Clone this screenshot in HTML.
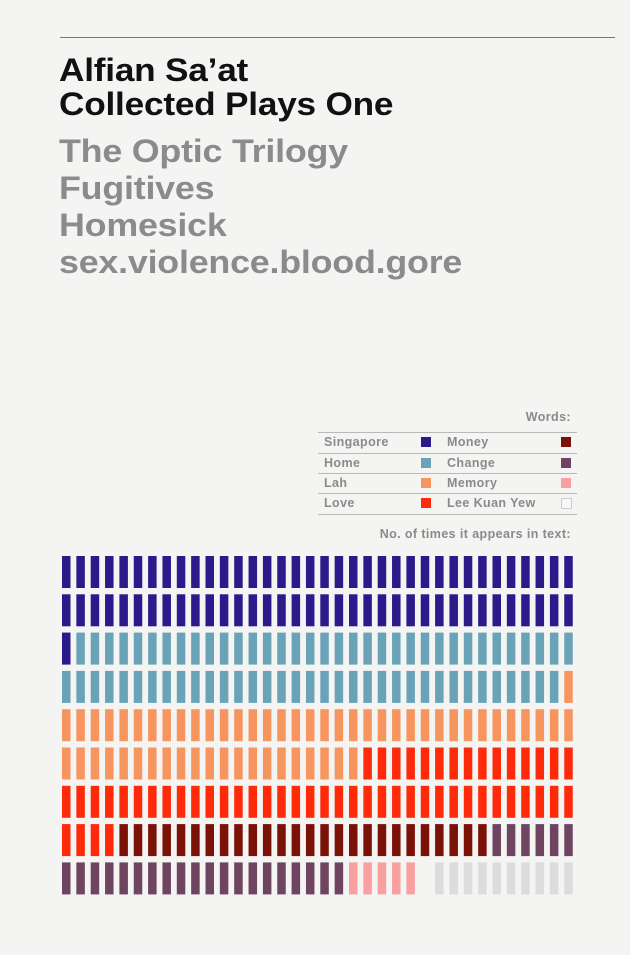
<!DOCTYPE html>
<html><head><meta charset="utf-8"><style>
body{margin:0;width:630px;height:955px;background:#f4f4f3;font-family:"Liberation Sans",sans-serif;position:relative;overflow:hidden}
.t{position:absolute;left:59px;font-weight:bold;font-size:32px;letter-spacing:-0.2px;white-space:nowrap;transform-origin:0 0}
.k{color:#111;transform:scaleX(1.1)}.g{color:#8b8b8d;transform:scaleX(1.12)}
.s{position:absolute;font-size:12.5px;font-weight:bold;color:#8a8a8a;white-space:nowrap;letter-spacing:0.4px}
.ln{position:absolute;left:318px;width:259px;height:1px;background:#b9b9b9}
.sw{position:absolute;width:10px;height:10px}
</style></head><body>
<div style="position:absolute;left:60px;top:37px;width:555px;height:1px;background:#777"></div>
<div class="t k" style="top:52px">Alfian Sa’at</div>
<div class="t k" style="top:86px">Collected Plays One</div>
<div class="t g" style="top:133px">The Optic Trilogy</div>
<div class="t g" style="top:170px">Fugitives</div>
<div class="t g" style="top:207px">Homesick</div>
<div class="t g" style="top:244px">sex.violence.blood.gore</div>

<div class="s" style="right:59px;top:410px">Words:</div>
<div id="legend"></div>
<div class="s" style="right:59px;top:527px">No. of times it appears in text:</div>
<svg id="chart" width="630" height="955" style="position:absolute;left:0;top:0"></svg>
<script>
const words=["Singapore","Home","Lah","Love","Money","Change","Memory","Lee Kuan Yew"];
const counts=[73,70,58,55,26,26,5,10];
const colors=["#2a1a8a","#6aa3b8","#f7955f","#ff2a0a","#7a1208","#6e4460","#f8a0a0","#dcdcdc"];
const gapBefore=7; // empty slot before last word
const cols=36,x0=62,pitch=14.35,y0=556,rowPitch=38.3,bw=8.5,bh=32;
const svg=document.getElementById('chart');
let idx=0;
counts.forEach((c,w)=>{
  if(w===gapBefore) idx++;
  for(let i=0;i<c;i++){
    const r=Math.floor(idx/cols),col=idx%cols;
    const el=document.createElementNS('http://www.w3.org/2000/svg','rect');
    
    
    el.setAttribute('x',x0+col*pitch);el.setAttribute('y',y0+r*rowPitch);
    el.setAttribute('width',bw);el.setAttribute('height',bh);el.setAttribute('fill',colors[w]);
    svg.appendChild(el);idx++;
  }
});
const lg=document.getElementById('legend');
const lineY=[432,453,473,493,514];
lineY.forEach(y=>{const d=document.createElement('div');d.className='ln';d.style.top=y+'px';


lg.appendChild(d);});
words.forEach((w,i)=>{
  const r=i%4,c=Math.floor(i/4);
  const t=document.createElement('div');t.className='s';t.textContent=w;
  t.style.left=(c?447:324)+'px';t.style.top=(lineY[r]+3)+'px';
  
  
  lg.appendChild(t);
  const s=document.createElement('div');s.className='sw';s.style.background=colors[i];
  s.style.left=(c?561:421)+'px';s.style.top=(lineY[r]+5)+'px';
  if(i===7){s.style.background='#f8f8f8';s.style.border='1px solid #ccc';s.style.width='9px';s.style.height='9px';}
  
  
  lg.appendChild(s);
});
</script>
</body></html>
